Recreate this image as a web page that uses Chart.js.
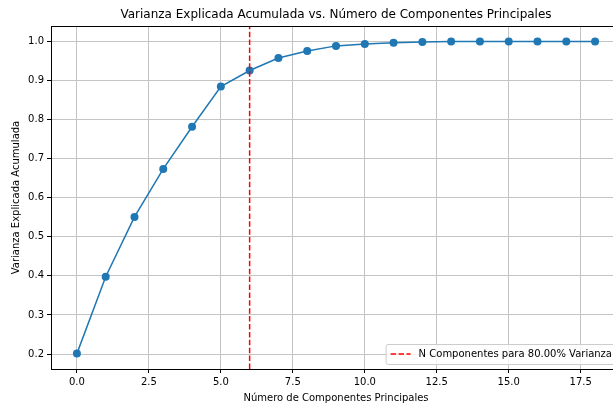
<!DOCTYPE html>
<html>
<head>
<meta charset="utf-8">
<script src="https://cdn.jsdelivr.net/npm/chart.js@4.4.0/dist/chart.umd.min.js"></script>
<style>
  html, body { margin: 0; padding: 0; background: #fff; overflow: hidden; }
  #wrap { width: 613px; height: 404px; overflow: hidden; }
</style>
</head>
<body>
<div id="wrap"><canvas id="myChart" width="672" height="404"></canvas></div>
<script>
// Datos
const componentes = [0, 1, 2, 3, 4, 5, 6, 7, 8, 9, 10, 11, 12, 13, 14, 15, 16, 17, 18];
const varianzaAcumulada = [0.201, 0.398, 0.551, 0.674, 0.782, 0.885, 0.926, 0.958, 0.976, 0.989,
                           0.994, 0.997, 0.999, 1.0, 1.0, 1.0, 1.0, 1.0, 1.0];
const nComponentes = 6;
const etiquetaLinea = "N Componentes para 80.00% Varianza";
const xTicks = [0, 2.5, 5, 7.5, 10, 12.5, 15, 17.5];
const yTicks = [0.2, 0.3, 0.4, 0.5, 0.6, 0.7, 0.8, 0.9, 1.0];
const xLimites = [-0.9, 18.9];
const yLimites = [0.1616, 1.0399];

Chart.defaults.font.family = "'DejaVu Sans', sans-serif";
Chart.defaults.font.size = 10;
Chart.defaults.color = "#000";

// Marco de los ejes y leyenda estilo matplotlib
const marcoPlugin = {
    id: "marco",
    afterDraw(chart) {
        const { ctx, chartArea: a } = chart;
        ctx.save();
        ctx.strokeStyle = "#000";
        ctx.lineWidth = 1;
        ctx.strokeRect(Math.round(a.left) + 0.5, Math.round(a.top) + 0.5,
                       Math.round(a.right - a.left), Math.round(a.bottom - a.top));

        // leyenda
        const ds = chart.data.datasets[0];
        ctx.font = "10px 'DejaVu Sans'";
        const tw = ctx.measureText(ds.label).width;
        const w = 4 + 20 + 8 + tw + 5, h = 20;
        const right = a.right - 5, bottom = a.bottom - 5;
        const left = right - w, top = bottom - h;
        ctx.beginPath();
        ctx.roundRect(left + 0.5, top + 0.5, w, h, 2);
        ctx.fillStyle = "rgba(255,255,255,0.8)";
        ctx.fill();
        ctx.strokeStyle = "#cccccc";
        ctx.stroke();
        const cy = top + h / 2;
        ctx.beginPath();
        ctx.setLineDash(ds.borderDash);
        ctx.strokeStyle = ds.borderColor;
        ctx.lineWidth = ds.borderWidth;
        ctx.moveTo(left + 5, cy);
        ctx.lineTo(left + 25, cy);
        ctx.stroke();
        ctx.setLineDash([]);
        ctx.fillStyle = "#000";
        ctx.textBaseline = "middle";
        ctx.fillText(ds.label, left + 33, cy + 0.5);
        ctx.restore();
    }
};

const ctx = document.getElementById("myChart").getContext("2d");
const myChart = new Chart(ctx, {
    type: "line",
    data: {
        datasets: [{
            label: etiquetaLinea,
            data: [{ x: nComponentes, y: yLimites[0] }, { x: nComponentes, y: yLimites[1] }],
            borderColor: "red",
            borderWidth: 1.5,
            borderDash: [5.5, 2.4],
            pointRadius: 0,
            order: 0
        }, {
            label: "Varianza",
            data: componentes.map((c, i) => ({ x: c, y: varianzaAcumulada[i] })),
            borderColor: "#1f77b4",
            borderWidth: 1.5,
            pointRadius: 4,
            pointBackgroundColor: "#1f77b4",
            pointBorderWidth: 0,
            tension: 0,
            order: 1
        }]
    },
    options: {
        responsive: false,
        animation: false,
        layout: { padding: 0 },
        plugins: {
            legend: { display: false },
            tooltip: { enabled: false },
            title: {
                display: true,
                text: "Varianza Explicada Acumulada vs. Número de Componentes Principales",
                font: { size: 12, weight: "normal" },
                color: "#000",
                padding: { top: 8, bottom: 3.6 }
            }
        },
        scales: {
            x: {
                type: "linear",
                min: xLimites[0],
                max: xLimites[1],
                afterBuildTicks: s => { s.ticks = xTicks.map(v => ({ value: v })); },
                afterFit: s => { s.height = 35; },
                ticks: { autoSkip: false, maxRotation: 0, padding: 3, callback: v => v.toFixed(1) },
                grid: { color: "#c4c4c4", lineWidth: 1, tickColor: "#000", tickLength: 4 },
                border: { display: false },
                title: { display: true, text: "Número de Componentes Principales", padding: { top: 0, bottom: 0 } }
            },
            y: {
                min: yLimites[0],
                max: yLimites[1],
                afterBuildTicks: s => { s.ticks = yTicks.map(v => ({ value: v })); },
                afterFit: s => { s.width = 51; },
                ticks: { autoSkip: false, padding: 3, callback: v => v.toFixed(1) },
                grid: { color: "#c4c4c4", lineWidth: 1, tickColor: "#000", tickLength: 4 },
                border: { display: false },
                title: { display: true, text: "Varianza Explicada Acumulada", padding: { top: 10, bottom: 0 } }
            },
            // margen derecho (la figura original continua fuera de la imagen)
            yDerecha: {
                position: "right",
                min: yLimites[0],
                max: yLimites[1],
                afterFit: s => { s.width = 51; },
                ticks: { display: false },
                grid: { drawOnChartArea: false, drawTicks: false },
                border: { display: false }
            }
        }
    },
    plugins: [marcoPlugin]
});
</script>
</body>
</html>
